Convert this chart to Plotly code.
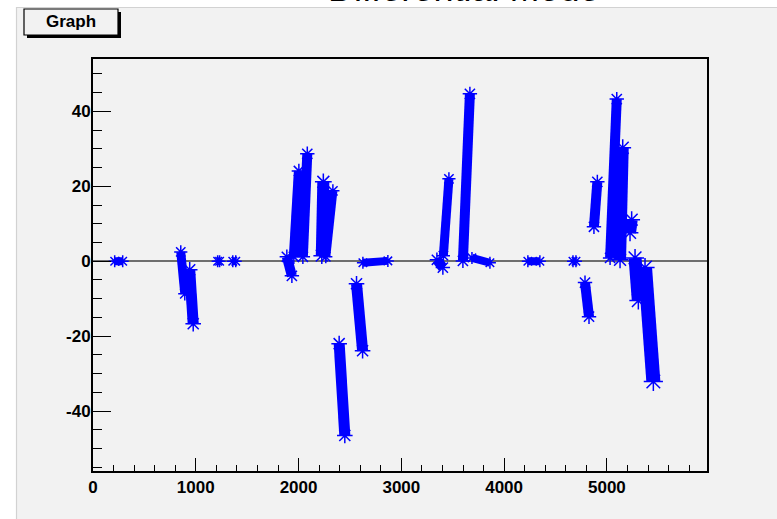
import plotly.graph_objects as go

# ---- data ----
# each entry is one dense run of points: start (x, y) -> end (x, y)
seg_x_start = [211, 854, 941, 1213, 1360, 1886, 1954, 2042, 2226, 2265, 2626, 2395, 2564,
               3346, 3409, 3599, 3687, 4231, 4670, 4787, 4874, 5031, 5128, 5225, 5274, 5371]
seg_y_start = [0, 2.5, -2.3, 0, 0, 1.2, 1.2, 1.2, 1.5, 1.2, -0.4, -22.0, -6.0,
               0.4, 1.5, 0.1, 0.9, 0, 0, -5.7, 9.2, 0.9, 0.4, 7.6, 0.9, -1.7]
seg_x_end = [289, 893, 975, 1232, 1389, 1935, 2003, 2085, 2241, 2334, 2869, 2450, 2623,
             3404, 3463, 3667, 3862, 4348, 4699, 4826, 4907, 5096, 5154, 5241, 5306, 5452]
seg_y_end = [0, -8.7, -16.7, 0, 0, -3.9, 24.1, 28.7, 21.2, 18.8, 0.1, -46.5, -23.9,
             -1.7, 22.0, 44.7, -0.4, 0, 0, -14.8, 21.2, 43.3, 30.3, 11.1, -10.5, -32.1]

x_tick_vals = [0, 1000, 2000, 3000, 4000, 5000]
x_tick_text = ["0", "1000", "2000", "3000", "4000", "5000"]
y_tick_vals = [-40, -20, 0, 20, 40]
y_tick_text = ["-40", "-20", "0", "20", "40"]

title_text = "Differential Mode"
legend_box_text = "Graph"

# ---- styles ----
band_px = [8, 9, 11, 8, 8, 10, 10, 10, 12, 9, 8, 11, 11,
           10, 9, 10, 8, 8, 8, 10, 10, 10, 12, 12, 13, 14]
BLUE = "#0000ff"
CANVAS = "#f2f2f2"
FONT = "Liberation Sans"

W, H = 777, 519
ML, MR, MT, MB = 93, 70, 59, 48
PW, PH = W - ML - MR, H - MT - MB


def px(xp):
    return (xp - ML) / PW


def py(yp):
    return (H - MB - yp) / PH


fig = go.Figure()
for i in range(len(seg_x_start)):
    fig.add_trace(go.Scatter(
        x=[seg_x_start[i], seg_x_end[i]],
        y=[seg_y_start[i], seg_y_end[i]],
        mode="lines+markers",
        line=dict(color=BLUE, width=band_px[i]),
        marker=dict(symbol="asterisk-open", size=band_px[i] + 2,
                    color=BLUE, line=dict(color=BLUE, width=1.5)),
        showlegend=False, hoverinfo="skip",
    ))

shapes = [
    # canvas
    dict(type="rect", xref="paper", yref="paper", layer="below",
         x0=px(16.5), x1=px(W + 5), y0=py(H + 5), y1=py(7.5),
         fillcolor=CANVAS, line=dict(color="#d2d2d2", width=1.2)),
    # title box shadow
    dict(type="rect", xref="paper", yref="paper",
         x0=px(27), x1=px(121), y0=py(38), y1=py(12),
         fillcolor="black", line=dict(width=0)),
    # title box
    dict(type="rect", xref="paper", yref="paper",
         x0=px(24), x1=px(118), y0=py(35), y1=py(9),
         fillcolor=CANVAS, line=dict(color="black", width=1.2)),
]

annotations = [
    dict(text=title_text, xref="paper", yref="paper", x=px(463.5), y=py(11.5),
         xanchor="center", yanchor="bottom", showarrow=False,
         font=dict(family=FONT, size=36, color="black")),
    dict(text="<b>" + legend_box_text + "</b>", xref="paper", yref="paper",
         x=px(71), y=py(22), xanchor="center", yanchor="middle", showarrow=False,
         font=dict(family=FONT, size=17, color="black")),
]

fig.update_layout(
    width=W, height=H,
    margin=dict(l=ML, r=MR, t=MT, b=MB, pad=0),
    paper_bgcolor="white", plot_bgcolor=CANVAS,
    shapes=shapes, annotations=annotations,
    showlegend=False,
)
fig.update_xaxes(
    range=[0, 5974], tickvals=x_tick_vals, ticktext=x_tick_text,
    ticks="inside", ticklen=13, tickwidth=1, tickcolor="black",
    minor=dict(dtick=200, tick0=0, ticks="inside", ticklen=6, tickwidth=1, tickcolor="black"),
    showline=True, linecolor="black", linewidth=2, mirror=True,
    showgrid=False, zeroline=False,
    tickfont=dict(family=FONT, size=17, color="black", weight="bold"),
)
fig.update_yaxes(
    range=[-56, 54], tickvals=y_tick_vals, ticktext=y_tick_text,
    ticks="inside", ticklen=18, tickwidth=1, tickcolor="black",
    minor=dict(dtick=5, tick0=0, ticks="inside", ticklen=9, tickwidth=1, tickcolor="black"),
    showline=True, linecolor="black", linewidth=2, mirror=True,
    showgrid=False, zeroline=True, zerolinecolor="#6e6e6e", zerolinewidth=2,
    tickfont=dict(family=FONT, size=17, color="black", weight="bold"),
    ticklabelstandoff=-3,
)

fig.write_html(
    "out.html",
    config={"displayModeBar": False},
    post_script="document.body.style.margin='0';document.body.style.overflow='hidden';",
)
